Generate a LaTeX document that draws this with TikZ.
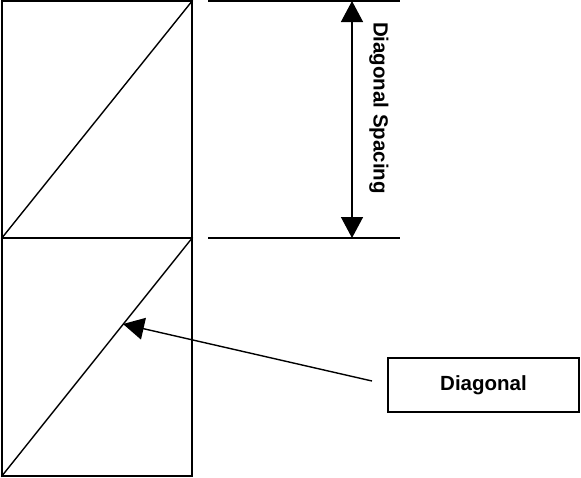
\documentclass[tikz,border=0pt]{standalone}
\usepackage{fontspec}
\setmainfont{Liberation Sans}
\usetikzlibrary{arrows.meta}
\begin{document}
\begin{tikzpicture}[x=1pt,y=-1pt,line width=1.4pt,>={Triangle[length=21pt,width=22pt]}]
	\useasboundingbox(0,0)rectangle(581,477);
	\tikzset{txt/.style={font=\fontsize{20.5}{24}\selectfont\bfseries},
		every node/.style={inner sep=0}}
	\node(U)at(97,119.5)[draw,minimum width=190,minimum height=237]{};
	\node(L)at(97,357)[draw,minimum width=190,minimum height=238]{};
	\draw(U.south west)--(U.north east);
	\draw(L.south west)--(L.north east);
	\coordinate(t1)at(208,1);\coordinate(t2)at(400,1);
	\coordinate(b1)at(208,238);\coordinate(b2)at(400,238);
	\draw(t1)--(t2);
	\draw(b1)--(b2);
	\coordinate(T)at(352,1);\coordinate(B)at(352,238);
	\node(S)at(379,108)[txt,rotate=-90]{Diagonal Spacing};
	\node(D)at(483.5,385)[draw,txt,minimum width=191,minimum height=54]{Diagonal};
	\coordinate(tail)at(372,381);
	\coordinate(hit)at(123,324);
	\draw[<->](T)--(B);
	\draw[->](tail)--(hit);
\end{tikzpicture}
\end{document}
